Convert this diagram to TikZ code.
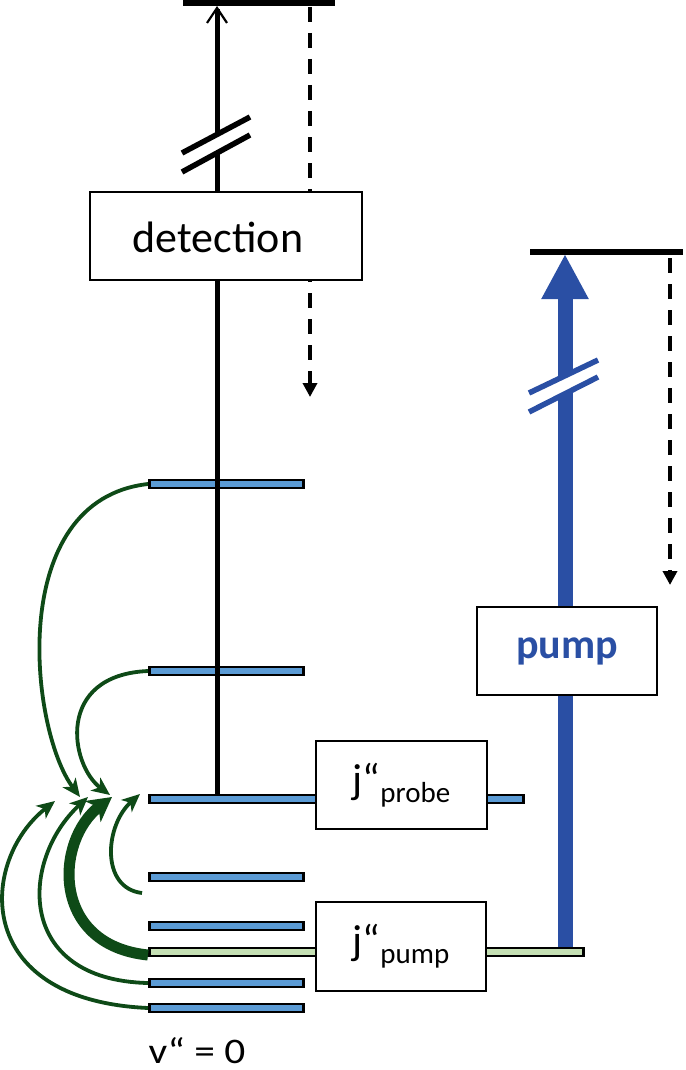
\documentclass[tikz,border=0pt]{standalone}
\usepackage{fontspec}
\setmainfont{Carlito}
\usepackage{graphicx}
\usetikzlibrary{arrows.meta}
\definecolor{barblue}{HTML}{5B9BD5}
\definecolor{bargreen}{HTML}{C5E0B4}
\definecolor{pumpblue}{HTML}{2A4FA4}
\definecolor{arrgreen}{HTML}{0E4A17}
\begin{document}
\begin{tikzpicture}[x=1pt,y=-1pt,
  bar/.style={draw=black,line width=2.5pt,fill=barblue,minimum height=8pt,inner sep=0pt,anchor=west},
  gbar/.style={bar,fill=bargreen},
  lbox/.style={draw=black,line width=1.2pt,fill=white,inner sep=0pt},
  levtop/.style={line width=5.5pt},
  decay/.style={line width=3.8pt,dash pattern=on 15pt off 11pt,-{Triangle[length=14pt,width=14pt]}},
  relax/.style={draw=arrgreen,line width=3.8pt,-{Stealth[length=18pt,width=16pt,inset=5pt]}},
  breakmark/.style={line width=5.5pt},
]
\useasboundingbox (0,0) rectangle (685,1070);

% coordinates
\coordinate (detL) at (183,3);
\coordinate (detR) at (335,3);
\coordinate (pmpL) at (530,252);
\coordinate (pmpR) at (683,252);
\coordinate (detfoot) at (217,795);
\coordinate (dettop) at (217,6);
\coordinate (ddtop) at (310,7);
\coordinate (ddend) at (310,397);
\coordinate (pdtop) at (670,258);
\coordinate (pdend) at (670,585);
\coordinate (pumpfoot) at (565,948);
\coordinate (pumptop) at (565,254);

% top levels
\draw[levtop] (detL) -- (detR);
\draw[levtop] (pmpL) -- (pmpR);

% bars
\node[bar,minimum width=154pt] (L1) at (148,484) {};
\node[bar,minimum width=154pt] (L2) at (148,671) {};
\node[bar,minimum width=374pt] (Lp) at (148,799) {};
\node[bar,minimum width=154pt] (L4) at (148,877) {};
\node[bar,minimum width=154pt] (L5) at (148,926) {};
\node[bar,minimum width=154pt] (L6) at (148,983) {};
\node[bar,minimum width=154pt] (L7) at (148,1008) {};

% pump arrow
\draw[pumpblue,line width=15pt,-{Triangle[length=45pt,width=44pt]}] (pumpfoot) -- (pumptop);
\node[gbar,minimum width=434pt] (Lg) at (148,952) {};

% detection line
\draw[line width=5pt,-{Straight Barb[length=15pt,width=20pt,line width=2.2pt]}] (detfoot) -- (dettop);

% dashed decays
\draw[decay] (ddtop) -- (ddend);
\draw[decay] (pdtop) -- (pdend);

% break marks
\fill[white] (184,152) -- (250,118) -- (250,135) -- (184,171) -- cycle;
\draw[breakmark] (182,153) -- (250,117);
\draw[breakmark] (182,172) -- (250,135);
\fill[white] (530,392) -- (598,361) -- (598,376) -- (530,411) -- cycle;
\draw[breakmark,pumpblue] (529,393) -- (598,360);
\draw[breakmark,pumpblue] (529,412) -- (598,377);

% boxes
\node[lbox,minimum width=272pt,minimum height=88pt] (detbox) at (226,236) {};
\node[font=\fontsize{44}{44}\selectfont] (dettext) at (218,237) {detection};
\node[lbox,minimum width=180pt,minimum height=88pt,text=pumpblue,font=\fontsize{42}{42}\selectfont\bfseries] (pumpbox) at (567,651) {pump};
\node[lbox,minimum width=171pt,minimum height=88pt] (probebox) at (401.5,785)
  {\fontsize{42}{42}\selectfont j“\raisebox{-9pt}{\fontsize{29}{29}\selectfont probe}};
\node[lbox,minimum width=170pt,minimum height=89pt] (jpumpbox) at (401,946.5)
  {\fontsize{42}{42}\selectfont j“\raisebox{-9pt}{\fontsize{29}{29}\selectfont pump}};

% relaxation arrows
\coordinate (t1) at (80,797);
\coordinate (t2) at (110,795);
\coordinate (u1) at (55,801);
\coordinate (u2) at (88,797);
\coordinate (u3) at (112,797);
\coordinate (u4) at (140,794);
\coordinate (s4) at (142,893);
\draw[relax] (L1.west) .. controls (5,500) and (30,730) .. (t1);
\draw[relax] (L2.west) .. controls (55,675) and (70,765) .. (t2);
\draw[relax] (L7.west) .. controls (-30,1000) and (-20,860) .. (u1);
\draw[relax] (L6.west) .. controls (15,980) and (20,860) .. (u2);
\draw[relax,line width=11pt,-{Stealth[length=24pt,width=26pt,inset=7pt]}] ([yshift=-3pt]Lg.west) .. controls (50,945) and (55,840) .. (u3);
\draw[relax] (s4) .. controls (100,888) and (105,825) .. (u4);

% label
\node[font=\fontsize{36}{36}\selectfont,inner sep=0pt,anchor=base] (vlabel) at (197,1063) {\scalebox{1.15}[1]{v“ = 0}};
\end{tikzpicture}
\end{document}
